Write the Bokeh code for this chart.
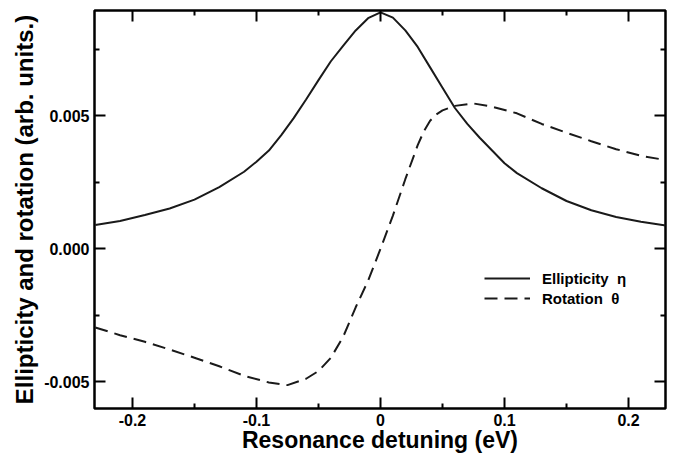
from bokeh.plotting import figure
from bokeh.models import (FixedTicker, PrintfTickFormatter, CustomJSTickFormatter,
                          LinearAxis, Legend, LegendItem, Range1d)
from bokeh.embed import file_html
from bokeh.resources import INLINE

# ---- data ----
ell_x = [-0.23, -0.21, -0.19, -0.17, -0.15, -0.13, -0.11, -0.10, -0.09, -0.08, -0.07, -0.06, -0.05,
         -0.04, -0.03, -0.02, -0.01, 0.0, 0.01, 0.02, 0.03, 0.04, 0.05,
         0.06, 0.07, 0.08, 0.09, 0.10, 0.11, 0.13, 0.15, 0.17, 0.19, 0.21, 0.23]
ell_y = [0.00090, 0.00105, 0.00127, 0.00152, 0.00185, 0.00232, 0.00290, 0.00328, 0.00370, 0.00428, 0.00492, 0.00562, 0.00635,
         0.00706, 0.00765, 0.00822, 0.00868, 0.00890, 0.00870, 0.00822, 0.00760, 0.00683, 0.00606,
         0.00530, 0.00470, 0.00418, 0.00370, 0.00322, 0.00285, 0.00228, 0.00180, 0.00145, 0.00120, 0.00102, 0.00088]

rot_x = [-0.23, -0.21, -0.19, -0.17, -0.15, -0.13, -0.11, -0.09, -0.075, -0.06,
         -0.05, -0.04, -0.03, -0.02, -0.01, 0.0, 0.01, 0.02, 0.03, 0.035,
         0.04, 0.045, 0.05, 0.06, 0.075, 0.09, 0.11, 0.13, 0.15, 0.17, 0.19, 0.21, 0.23]
rot_y = [-0.00296, -0.00325, -0.00350, -0.00379, -0.00410, -0.00442, -0.00478, -0.00503, -0.00513, -0.00489,
         -0.00460, -0.00410, -0.00330, -0.00220, -0.00120, 0.00000, 0.00125, 0.00262, 0.00390, 0.00443,
         0.00482, 0.00506, 0.00521, 0.00538, 0.00547, 0.00535, 0.00510, 0.00470, 0.00437, 0.00405, 0.00375, 0.00350, 0.00334]

x_major = [-0.2, -0.1, 0.0, 0.1, 0.2]
x_minor = [-0.15, -0.05, 0.05, 0.15]
y_major = [-0.005, 0.0, 0.005]
y_minor = [-0.0025, 0.0025, 0.0075]

x_label = "Resonance detuning (eV)"
y_label = "Ellipticity and rotation (arb. units.)"
names = ["Ellipticity  \u03b7", "Rotation  \u03b8"]

FONT = "Liberation Sans"

p = figure(width=678, height=455, output_backend="svg", toolbar_location=None,
           x_range=Range1d(-0.2306, 0.2298), y_range=Range1d(-0.00601, 0.00897),
           x_axis_location=None, y_axis_location=None,
           min_border_left=94, min_border_right=13, min_border_top=10, min_border_bottom=45)
p.grid.visible = False
p.outline_line_color = "black"
p.outline_line_width = 2.5
p.outline_line_alpha = 1.0
p.background_fill_color = "white"
p.border_fill_color = "white"

xt = FixedTicker(ticks=x_major, minor_ticks=x_minor)
yt = FixedTicker(ticks=y_major, minor_ticks=y_minor)
xfmt = CustomJSTickFormatter(code="return Math.abs(tick) < 1e-9 ? '0' : tick.toFixed(1);")
yfmt = PrintfTickFormatter(format="%.3f")


def style(ax, labels=True):
    ax.axis_line_color = None
    ax.major_tick_in = 11
    ax.major_tick_out = 0
    ax.minor_tick_in = 5
    ax.minor_tick_out = 0
    ax.major_tick_line_width = 2
    ax.minor_tick_line_width = 2
    ax.major_tick_line_color = "black"
    ax.minor_tick_line_color = "black"
    if labels:
        ax.major_label_text_font = FONT
        ax.major_label_text_font_style = "bold"
        ax.major_label_text_font_size = "16px"
        ax.major_label_text_color = "black"
        ax.axis_label_text_font = FONT
        ax.axis_label_text_font_style = "bold"
        ax.axis_label_text_color = "black"
    else:
        ax.major_label_text_color = None
        ax.major_label_text_font_size = "1px"
        ax.major_label_standoff = 0


bottom = LinearAxis(ticker=xt, formatter=xfmt, axis_label=x_label)
style(bottom)
bottom.major_label_standoff = 5
bottom.axis_label_standoff = -2
bottom.axis_label_text_font_size = "23px"
p.add_layout(bottom, "below")

left = LinearAxis(ticker=yt, formatter=yfmt, axis_label=y_label)
style(left)
left.major_label_standoff = 5
left.axis_label_standoff = 3
left.axis_label_text_font_size = "24px"
p.add_layout(left, "left")

top = LinearAxis(ticker=xt, formatter=xfmt)
style(top, labels=False)
p.add_layout(top, "above")

right = LinearAxis(ticker=yt, formatter=yfmt)
style(right, labels=False)
p.add_layout(right, "right")

r1 = p.line(ell_x, ell_y, line_color="#1a1a1a", line_width=2)
r2 = p.line(rot_x, rot_y, line_color="#1a1a1a", line_width=2, line_dash="13 7")

legend = Legend(items=[LegendItem(label=names[0], renderers=[r1]),
                       LegendItem(label=names[1], renderers=[r2])],
                location=(390, 100), orientation="vertical",
                glyph_width=46, glyph_height=20, label_height=20, label_standoff=12,
                padding=0, margin=0, spacing=0,
                label_text_font=FONT, label_text_font_style="bold",
                label_text_font_size="15px", label_text_color="black",
                border_line_color=None, background_fill_alpha=0)
p.add_layout(legend, "center")

open("out.html", "w").write(file_html(p, INLINE))
